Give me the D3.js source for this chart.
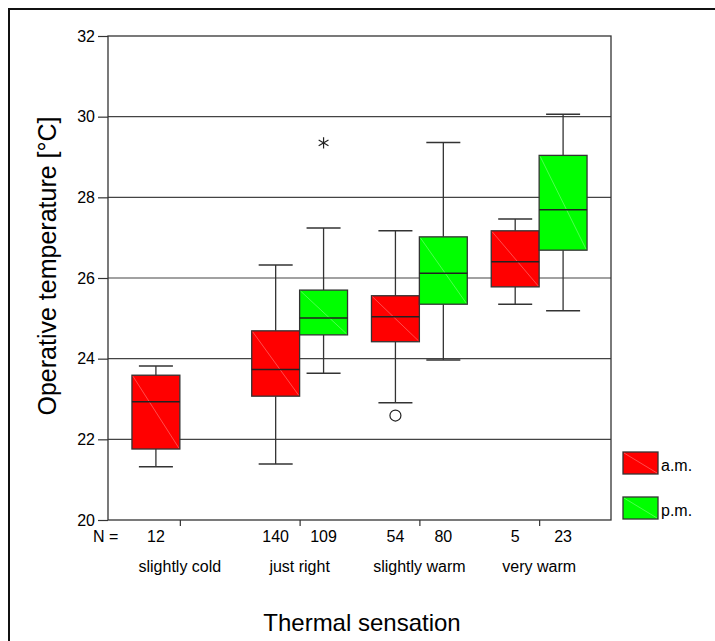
<!DOCTYPE html>
<html><head><meta charset="utf-8">
<script src="https://cdn.jsdelivr.net/npm/d3@7"></script>
<style>body{margin:0;background:#fff}svg{display:block;font-family:"Liberation Sans",Arial,sans-serif}</style>
</head><body>
<svg id="c" width="715" height="641"></svg>
<script>
const categories = ["slightly cold", "just right", "slightly warm", "very warm"];
const series = ["a.m.", "p.m."];
const seriesColors = ["#ff0000", "#00ff00"];
// [lowWhisker, q1, median, q3, highWhisker]
const amStats = [
  [21.32, 21.76, 22.93, 23.59, 23.82],
  [21.39, 23.07, 23.73, 24.69, 26.32],
  [22.91, 24.42, 25.04, 25.56, 27.17],
  [25.35, 25.78, 26.40, 27.17, 27.46]
];
const pmStats = [
  null,
  [23.64, 24.59, 25.01, 25.70, 27.24],
  [23.97, 25.35, 26.12, 27.02, 29.36],
  [25.19, 26.69, 27.69, 29.04, 30.06]
];
const amN = [12, 140, 54, 5];
const pmN = [null, 109, 80, 23];
// outliers: [categoryIndex, seriesIndex, value, type]
const outliers = [
  [1, 1, 29.35, "extreme"],
  [2, 0, 22.59, "outlier"]
];
const yTicks = [20, 22, 24, 26, 28, 30, 32];

const svg = d3.select("#c");
const L = 108, R = 611, T = 36, B = 520;

// outer frame
svg.append("rect").attr("x", 9).attr("y", 9).attr("width", 760).attr("height", 700)
  .attr("fill", "none").attr("stroke", "#111").attr("stroke-width", 2);

const x = d3.scalePoint().domain(categories).range([L, R]).padding(0.6);
const step = x.step();
const bw = step * 0.4;
const y = d3.scaleLinear().domain([20, 32]).range([B, T]);

// gridlines
svg.append("g").selectAll("line").data(yTicks.filter(v => v > 20 && v < 32)).join("line")
  .attr("x1", L).attr("x2", R).attr("y1", d => y(d)).attr("y2", d => y(d))
  .attr("stroke", "#444").attr("stroke-width", 1.2);

// plot frame
svg.append("rect").attr("x", L).attr("y", T).attr("width", R - L).attr("height", B - T)
  .attr("fill", "none").attr("stroke", "#333").attr("stroke-width", 1.3);

// y axis
const yAxis = d3.axisLeft(y).tickValues(yTicks).tickSize(10).tickPadding(3).tickFormat(d3.format("d"));
const gy = svg.append("g").attr("transform", `translate(${L},0)`).call(yAxis);
gy.select(".domain").remove();
gy.selectAll(".tick line").attr("stroke", "#333").attr("stroke-width", 1.2);
gy.selectAll(".tick text").attr("font-size", 16).attr("fill", "#000")
  .attr("font-family", "Liberation Sans, Arial, sans-serif");

// x axis ticks
const xAxis = d3.axisBottom(x).tickSize(6).tickFormat("");
const gx = svg.append("g").attr("transform", `translate(0,${B})`).call(xAxis);
gx.select(".domain").remove();
gx.selectAll(".tick line").attr("stroke", "#333").attr("stroke-width", 1.2);

// boxes
const boxes = [];
categories.forEach((c, i) => {
  if (amStats[i]) boxes.push({c, s: 0, st: amStats[i], n: amN[i]});
  if (pmStats[i]) boxes.push({c, s: 1, st: pmStats[i], n: pmN[i]});
});
const cx = b => x(b.c) + (b.s === 0 ? -bw / 2 : bw / 2);
const capW = bw * 0.71;
const lineCol = "#333";
const gB = svg.append("g");
boxes.forEach(b => {
  const g = gB.append("g");
  const X = cx(b), st = b.st;
  g.append("line").attr("x1", X).attr("x2", X).attr("y1", y(st[0])).attr("y2", y(st[1])).attr("stroke", lineCol).attr("stroke-width", 1.3);
  g.append("line").attr("x1", X).attr("x2", X).attr("y1", y(st[3])).attr("y2", y(st[4])).attr("stroke", lineCol).attr("stroke-width", 1.3);
  [st[0], st[4]].forEach(v => g.append("line").attr("x1", X - capW / 2).attr("x2", X + capW / 2)
    .attr("y1", y(v)).attr("y2", y(v)).attr("stroke", lineCol).attr("stroke-width", 1.5));
  g.append("rect").attr("x", X - bw / 2).attr("y", y(st[3])).attr("width", bw).attr("height", y(st[1]) - y(st[3]))
    .attr("fill", seriesColors[b.s]).attr("stroke", lineCol).attr("stroke-width", 1.3);
  g.append("line").attr("x1", X - bw / 2 + 1).attr("x2", X + bw / 2 - 1).attr("y1", y(st[3]) + 1).attr("y2", y(st[1]) - 1)
    .attr("stroke", b.s === 0 ? "#ff6060" : "#60ff60").attr("stroke-width", 0.8);
  g.append("line").attr("x1", X - bw / 2).attr("x2", X + bw / 2).attr("y1", y(st[2])).attr("y2", y(st[2]))
    .attr("stroke", "#222").attr("stroke-width", 1.5);
  // N label
  svg.append("text").attr("x", X).attr("y", 542).attr("text-anchor", "middle").attr("font-size", 16)
    .attr("fill", "#000").text(b.n);
});

// outliers
outliers.forEach(o => {
  const X = x(categories[o[0]]) + (o[1] === 0 ? -bw / 2 : bw / 2);
  const Y = y(o[2]);
  if (o[3] === "outlier") {
    svg.append("circle").attr("cx", X).attr("cy", Y).attr("r", 5.5).attr("fill", "none").attr("stroke", "#222").attr("stroke-width", 1.2);
  } else {
    svg.append("path").attr("transform", `translate(${X},${Y})`)
      .attr("d", d3.symbol(d3.symbolAsterisk, 90)()).attr("fill", "none").attr("stroke", "#222").attr("stroke-width", 1.2);
  }
});

// N =
svg.append("text").attr("x", 93).attr("y", 542).attr("font-size", 16).attr("fill", "#000").text("N =");

// category labels
svg.append("g").selectAll("text").data(categories).join("text")
  .attr("x", d => x(d)).attr("y", 572).attr("text-anchor", "middle").attr("font-size", 16).attr("fill", "#000")
  .text(d => d);

// axis titles
svg.append("text").attr("x", 362).attr("y", 631).attr("text-anchor", "middle").attr("font-size", 24).attr("fill", "#000")
  .text("Thermal sensation");
svg.append("text").attr("transform", `translate(56,${(T + B) / 2 - 12}) rotate(-90)`).attr("text-anchor", "middle")
  .attr("font-size", 25).attr("fill", "#000").text("Operative temperature [°C]");

// legend
series.forEach((s, i) => {
  const ly = 452 + i * 45;
  svg.append("rect").attr("x", 623).attr("y", ly).attr("width", 35).attr("height", 22)
    .attr("fill", seriesColors[i]).attr("stroke", lineCol).attr("stroke-width", 1.3);
  svg.append("line").attr("x1", 624).attr("y1", ly + 1).attr("x2", 657).attr("y2", ly + 21)
    .attr("stroke", i === 0 ? "#ff6060" : "#60ff60").attr("stroke-width", 0.8);
  svg.append("text").attr("x", 661).attr("y", ly + 19).attr("font-size", 16).attr("fill", "#000").text(s);
});
</script>
</body></html>
